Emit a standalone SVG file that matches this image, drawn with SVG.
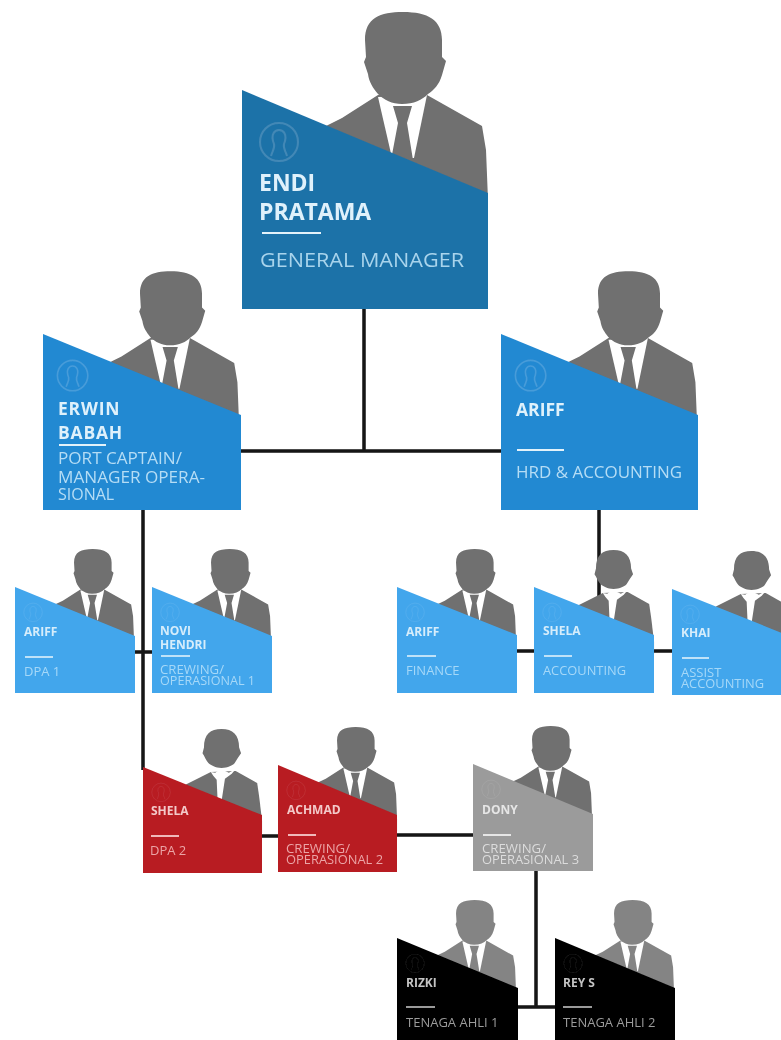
<svg xmlns="http://www.w3.org/2000/svg" width="781" height="1040" viewBox="0 0 781 1040">
<style>
text{font-family:"Open Sans","Liberation Sans",sans-serif;fill:#dff1fb}
.soft{filter:url(#soft)}
.softl{filter:url(#softl)}
.l{font-size:23px;font-weight:700}
.lr{font-size:20px;fill:#a8d4ec}
.m{font-size:17.5px;font-weight:700}
.mr{font-size:16px;fill:#b5ddf5}
.s{font-size:12px;font-weight:700;fill:#d6edfb}
.sr{font-size:13px;fill:#a5d8f8}
.red{fill:#f3c9c9}.redr{fill:#eba4a6}
.gr{fill:#e6e6e6}.grr{fill:#dcdcdc}
.bk{fill:#c4c4c4}.bkr{fill:#9c9c9c}
.rule{stroke-width:2;fill:none}
.conn{stroke:#141414;stroke-width:3.5;fill:none}
.p{fill:#6f6f6f}.w{fill:#fff}
.icon{fill:none;stroke:#fff;stroke-opacity:.16;stroke-width:2}
.iconf{opacity:.5}
</style>
<defs>
<filter id="soft" x="-5%" y="-5%" width="110%" height="110%"><feGaussianBlur stdDeviation="0.6"/></filter>
<filter id="softl" x="-5%" y="-5%" width="110%" height="110%"><feGaussianBlur stdDeviation="0.35"/></filter>
<g id="male">
<path class="p" d="M88,34L100,28L136,5L185,5L240,36L244,60L246,110L246,135L84,135L84,36Z"/>
<path class="w" d="M136,7L185,5L172,68L150,68Z"/>
<path class="p" d="M151,16L170,16L165,33L171,70L149,70L156,33Z"/>
<path class="p" d="M123,-50C123,-72 138,-78 161,-78C186,-78 200,-70 200,-50L200,-33L204,-29L200,-15C197,-5 192,0 186,4C180,10 172,14 160,14C150,14 142,10 136,4C131,-2 127,-8 126,-16L122,-28L124,-33Z"/>
</g>
<g id="female">
<path class="p" d="M90,36L141,10L192,8L236,33L240,60L246,110L246,135L90,135Z"/>
<path class="w" d="M141,10L150,12L158,6L166,6L178,12L192,4L184,14L170,24L163,70L155,70L153,26L146,18Z"/>
<path class="p" d="M127,-40C127,-68 140,-78 163,-78C186,-78 199,-66 199,-40L203,-28L196,-18L190,-8C186,-3 176,2 163,2C150,2 142,-3 136,-8C131,-14 128,-22 124,-28Z"/>
</g>
<g id="icon"><circle class="icon" cx="37" cy="52" r="19"/><path class="icon" d="M29,66C31,60 33,58 32,54C28,44 33,40 37,40C41,40 46,44 42,54C41,58 43,60 45,66"/></g>
</defs>
<rect width="781" height="1040" fill="#fff"/>
<g id="connectors" class="conn softl">
<path d="M364,309V451"/>
<path d="M241,451H501"/>
<path d="M143,510V770"/>
<path d="M134,652H153"/>
<path d="M599,510V625"/>
<path d="M517,651H535"/>
<path d="M654,651H672"/>
<path d="M261,836H279"/>
<path d="M397,835H474"/>
<path d="M536,871V1007"/>
<path d="M517,1007H556"/>
</g>
<g id="gm" class="softl">
<use href="#male" transform="translate(242,90)"/>
<polygon fill="#1f72a8" points="242,90 488,193 488,309 242,309"/>
<use href="#icon" transform="translate(242,90)"/>
<text class="l"><tspan x="259" y="191">ENDI</tspan><tspan x="259" y="220">PRATAMA</tspan></text>
<path class="rule" stroke="#e3f2fa" d="M262,233H321"/>
<text class="lr" x="260" y="267" textLength="204" lengthAdjust="spacingAndGlyphs">GENERAL MANAGER</text>
</g>
<g id="erwin" class="softl">
<use href="#male" transform="translate(41,334) scale(.805)"/>
<polygon fill="#2489d2" points="43,334 241,415 241,510 43,510"/>
<use href="#icon" transform="translate(43,334) scale(.8)"/>
<text class="m" letter-spacing=".8"><tspan x="58" y="415">ERWIN</tspan><tspan x="58" y="439">BABAH</tspan></text>
<path class="rule" stroke="#e3f2fa" d="M59,445H106"/>
<text class="mr" x="58" y="464" textLength="124" lengthAdjust="spacingAndGlyphs">PORT CAPTAIN/</text>
<text class="mr" x="58" y="483" textLength="147" lengthAdjust="spacingAndGlyphs">MANAGER OPERA-</text>
<text class="mr" x="58" y="500">SIONAL</text>
</g>
<g id="ariff-hrd" class="softl">
<use href="#male" transform="translate(499,334) scale(.805)"/>
<polygon fill="#2489d2" points="501,334 698,415 698,510 501,510"/>
<use href="#icon" transform="translate(501,334) scale(.8)"/>
<text class="m" x="516" y="416">ARIFF</text>
<path class="rule" stroke="#e3f2fa" d="M517,450H564"/>
<text class="mr" x="516" y="478" textLength="166" lengthAdjust="spacingAndGlyphs">HRD &amp; ACCOUNTING</text>
</g>
<g id="ariff-dpa" class="soft">
<use href="#male" transform="translate(14,587) scale(.488)"/>
<polygon fill="#43a6ec" points="15,587 135,636 135,693 15,693"/>
<use href="#icon" class="iconf" transform="translate(15,587) scale(.488)"/>
<text class="s" x="24" y="636">ARIFF</text>
<path class="rule" stroke="#bfe2f8" d="M25,657H53"/>
<text class="sr" x="24" y="676">DPA 1</text>
</g>
<g id="novi" class="soft">
<use href="#male" transform="translate(151,587) scale(.488)"/>
<polygon fill="#43a6ec" points="152,587 272,636 272,693 152,693"/>
<use href="#icon" class="iconf" transform="translate(152,587) scale(.488)"/>
<text class="s"><tspan x="160" y="635">NOVI</tspan><tspan x="160" y="649">HENDRI</tspan></text>
<path class="rule" stroke="#bfe2f8" d="M161,656H190"/>
<text class="sr"><tspan x="160" y="674" textLength="64" lengthAdjust="spacingAndGlyphs">CREWING/</tspan><tspan x="160" y="685" textLength="95" lengthAdjust="spacingAndGlyphs">OPERASIONAL 1</tspan></text>
</g>
<g id="ariff-fin" class="soft">
<use href="#male" transform="translate(396,587) scale(.488)"/>
<polygon fill="#43a6ec" points="397,587 517,635 517,693 397,693"/>
<use href="#icon" class="iconf" transform="translate(397,587) scale(.488)"/>
<text class="s" x="406" y="636">ARIFF</text>
<path class="rule" stroke="#bfe2f8" d="M407,656H436"/>
<text class="sr" x="406" y="675">FINANCE</text>
</g>
<g id="shela-acc" class="soft">
<use href="#female" transform="translate(534,588) scale(.488)"/>
<polygon fill="#43a6ec" points="534,587 654,635 654,693 534,693"/>
<use href="#icon" class="iconf" transform="translate(534,587) scale(.488)"/>
<text class="s" x="543" y="635">SHELA</text>
<path class="rule" stroke="#bfe2f8" d="M544,656H572"/>
<text class="sr" x="543" y="675" textLength="83" lengthAdjust="spacingAndGlyphs">ACCOUNTING</text>
</g>
<g id="khai" class="soft">
<use href="#female" transform="translate(672,589) scale(.488)"/>
<polygon fill="#43a6ec" points="672,589 792,637 792,695 672,695"/>
<use href="#icon" class="iconf" transform="translate(672,589) scale(.488)"/>
<text class="s" x="681" y="637">KHAI</text>
<path class="rule" stroke="#bfe2f8" d="M682,658H709"/>
<text class="sr"><tspan x="681" y="677">ASSIST</tspan><tspan x="681" y="688" textLength="83" lengthAdjust="spacingAndGlyphs">ACCOUNTING</tspan></text>
</g>
<g id="shela-dpa" class="soft">
<use href="#female" transform="translate(142,767) scale(.488)"/>
<polygon fill="#b81c22" points="143,767 262,815 262,873 143,873"/>
<use href="#icon" class="iconf" transform="translate(143,767) scale(.488)"/>
<text class="s red" x="151" y="815">SHELA</text>
<path class="rule" stroke="#f0b9ba" d="M151,836H179"/>
<text class="sr redr" x="150" y="855">DPA 2</text>
</g>
<g id="achmad" class="soft">
<use href="#male" transform="translate(277,765) scale(.488)"/>
<polygon fill="#b81c22" points="278,765 397,815 397,872 278,872"/>
<use href="#icon" class="iconf" transform="translate(278,765) scale(.488)"/>
<text class="s red" x="287" y="814">ACHMAD</text>
<path class="rule" stroke="#f0b9ba" d="M288,835H316"/>
<text class="sr redr"><tspan x="286" y="853" textLength="64" lengthAdjust="spacingAndGlyphs">CREWING/</tspan><tspan x="286" y="864" textLength="97" lengthAdjust="spacingAndGlyphs">OPERASIONAL 2</tspan></text>
</g>
<g id="dony" class="soft">
<use href="#male" transform="translate(472,764) scale(.488)"/>
<polygon fill="#9b9b9b" points="473,764 593,814 593,871 473,871"/>
<use href="#icon" class="iconf" transform="translate(473,764) scale(.488)"/>
<text class="s gr" x="482" y="814">DONY</text>
<path class="rule" stroke="#e6e6e6" d="M483,835H511"/>
<text class="sr grr"><tspan x="482" y="853" textLength="64" lengthAdjust="spacingAndGlyphs">CREWING/</tspan><tspan x="482" y="864" textLength="97" lengthAdjust="spacingAndGlyphs">OPERASIONAL 3</tspan></text>
</g>
<g id="rizki" class="soft">
<use href="#male" transform="translate(396,938) scale(.488)" opacity=".85"/>
<polygon fill="#000" points="397,938 518,988 518,1045 397,1045"/>
<use href="#icon" class="iconf" transform="translate(397,938) scale(.488)"/>
<text class="s bk" x="406" y="987">RIZKI</text>
<path class="rule" stroke="#9a9a9a" d="M406,1007H435"/>
<text class="sr bkr" x="406" y="1027">TENAGA AHLI 1</text>
</g>
<g id="rey" class="soft">
<use href="#male" transform="translate(554,938) scale(.488)" opacity=".85"/>
<polygon fill="#000" points="555,938 675,988 675,1045 555,1045"/>
<use href="#icon" class="iconf" transform="translate(555,938) scale(.488)"/>
<text class="s bk" x="563" y="987">REY S</text>
<path class="rule" stroke="#9a9a9a" d="M563,1007H592"/>
<text class="sr bkr" x="563" y="1027">TENAGA AHLI 2</text>
</g>
</svg>
